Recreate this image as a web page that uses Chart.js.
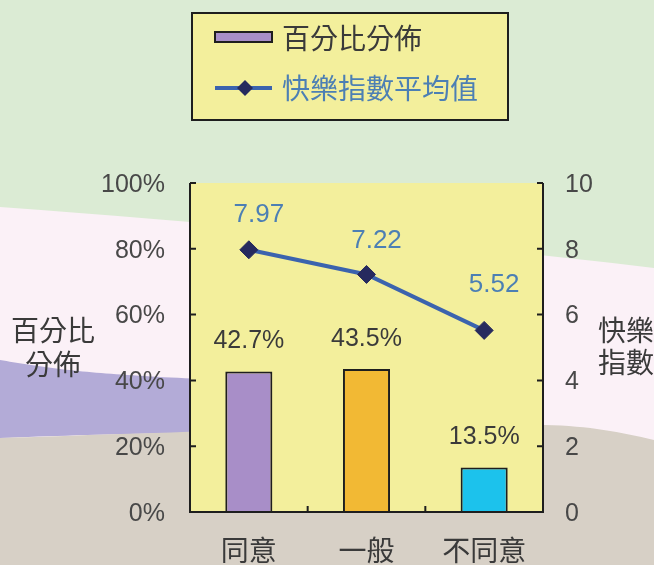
<!DOCTYPE html>
<html>
<head>
<meta charset="utf-8">
<script src="https://cdn.jsdelivr.net/npm/chart.js@4/dist/chart.umd.min.js"></script>
<style>
  html, body { margin: 0; padding: 0; background: #dbebd4; }
  canvas { display: block; }
</style>
</head>
<body>
<canvas id="chart" width="654" height="565"></canvas>
<script>
// datos
var categories = ['同意', '一般', '不同意'];
var percentValues = [42.7, 43.5, 13.5];
var happinessValues = [7.97, 7.22, 5.52];
var percentTicks = [0, 20, 40, 60, 80, 100];
var happinessTicks = [0, 2, 4, 6, 8, 10];
var barColors = ['#a88ec8', '#f2b934', '#1cc2ec'];

var FONT = '"Noto Sans CJK TC", "Noto Sans", sans-serif';
var NUM_FONT = '"Liberation Sans", Arial, sans-serif';
var YELLOW = '#f3ef9c';
var LINE_BLUE = '#3b63ae';
var MARKER = '#262a5e';
var LABEL_BLUE = '#4c7fb4';
var TEXT = '#3a3a3a';

// fondo con las franjas onduladas y el area amarilla
var backgroundPlugin = {
    id: 'fondo',
    beforeDraw: function (chart) {
        var ctx = chart.ctx;
        var w = chart.width, h = chart.height;
        var a = chart.chartArea;
        ctx.save();
        ctx.fillStyle = '#dbebd4';
        ctx.fillRect(0, 0, w, h);

        // franja rosa
        ctx.fillStyle = '#fbf1f7';
        ctx.beginPath();
        ctx.moveTo(0, 207);
        ctx.bezierCurveTo(200, 222, 420, 240, w, 268);
        ctx.lineTo(w, h);
        ctx.lineTo(0, h);
        ctx.closePath();
        ctx.fill();

        // franja morada (izquierda)
        ctx.fillStyle = '#b3abd7';
        ctx.beginPath();
        ctx.moveTo(0, 360);
        ctx.bezierCurveTo(70, 372, 130, 380, 420, 384);
        ctx.lineTo(420, 430);
        ctx.bezierCurveTo(200, 432, 100, 434, 0, 438);
        ctx.closePath();
        ctx.fill();

        // franja gris
        ctx.fillStyle = '#d7d0c6';
        ctx.beginPath();
        ctx.moveTo(0, 438);
        ctx.bezierCurveTo(150, 433, 400, 424, 545, 425);
        ctx.bezierCurveTo(590, 426, 620, 432, w, 440);
        ctx.lineTo(w, h);
        ctx.lineTo(0, h);
        ctx.closePath();
        ctx.fill();

        ctx.fillStyle = YELLOW;
        ctx.fillRect(a.left, a.top, a.right - a.left, a.bottom - a.top);
        ctx.restore();
    }
};

// ejes, marcas y etiquetas de valores
var decorPlugin = {
    id: 'decor',
    afterDatasetsDraw: function (chart) {
        var ctx = chart.ctx;
        var a = chart.chartArea;
        var yS = chart.scales.y, y1S = chart.scales.y1, xS = chart.scales.x;
        ctx.save();
        ctx.strokeStyle = '#1e1e1e';
        ctx.lineWidth = 2;
        ctx.beginPath();
        ctx.moveTo(a.left, a.top);
        ctx.lineTo(a.left, a.bottom);
        ctx.lineTo(a.right, a.bottom);
        ctx.lineTo(a.right, a.top);
        ctx.stroke();

        ctx.beginPath();
        percentTicks.forEach(function (v) {
            var py = yS.getPixelForValue(v);
            ctx.moveTo(a.left, py);
            ctx.lineTo(a.left + 6, py);
        });
        happinessTicks.forEach(function (v) {
            var py = y1S.getPixelForValue(v);
            ctx.moveTo(a.right, py);
            ctx.lineTo(a.right - 6, py);
        });
        for (var i = 1; i < categories.length; i++) {
            var bx = (xS.getPixelForValue(i - 1) + xS.getPixelForValue(i)) / 2;
            ctx.moveTo(bx, a.bottom);
            ctx.lineTo(bx, a.bottom - 6);
        }
        ctx.stroke();

        // etiquetas de las barras
        ctx.textAlign = 'center';
        ctx.textBaseline = 'middle';
        ctx.font = '25px ' + NUM_FONT;
        ctx.fillStyle = TEXT;
        var barMeta = chart.getDatasetMeta(1);
        barMeta.data.forEach(function (bar, i) {
            ctx.fillText(percentValues[i].toFixed(1) + '%', bar.x, bar.y - 30);
        });

        // etiquetas de la linea
        var offY = [-35, -34, -46];
        ctx.font = '26px ' + NUM_FONT;
        ctx.fillStyle = LABEL_BLUE;
        var lineMeta = chart.getDatasetMeta(0);
        lineMeta.data.forEach(function (pt, i) {
            ctx.fillText(happinessValues[i].toFixed(2), pt.x + 10, pt.y + offY[i]);
        });
        ctx.restore();
    },
    afterDraw: function (chart) {
        var ctx = chart.ctx;
        ctx.save();
        // leyenda
        ctx.fillStyle = YELLOW;
        ctx.fillRect(192, 13, 316, 107);
        ctx.strokeStyle = '#1e1e1e';
        ctx.lineWidth = 2;
        ctx.strokeRect(192, 13, 316, 107);

        ctx.fillStyle = barColors[0];
        ctx.fillRect(215, 32, 57, 10);
        ctx.strokeRect(215, 32, 57, 10);

        ctx.strokeStyle = LINE_BLUE;
        ctx.lineWidth = 4;
        ctx.beginPath();
        ctx.moveTo(215, 88);
        ctx.lineTo(272, 88);
        ctx.stroke();
        ctx.fillStyle = MARKER;
        ctx.beginPath();
        ctx.moveTo(245, 80);
        ctx.lineTo(253, 88);
        ctx.lineTo(245, 96);
        ctx.lineTo(237, 88);
        ctx.closePath();
        ctx.fill();

        ctx.font = '28px ' + FONT;
        ctx.textAlign = 'left';
        ctx.textBaseline = 'middle';
        ctx.fillStyle = TEXT;
        ctx.fillText(chart.data.datasets[1].label, 282, 38);
        ctx.fillStyle = LABEL_BLUE;
        ctx.fillText(chart.data.datasets[0].label, 282, 88);

        // titulos de los ejes
        ctx.fillStyle = TEXT;
        ctx.textAlign = 'center';
        ctx.fillText('百分比', 53, 330);
        ctx.fillText('分佈', 53, 364);
        ctx.textAlign = 'left';
        ctx.fillText('快樂', 598, 330);
        ctx.fillText('指數', 598, 362);
        ctx.restore();
    }
};

var tickFont = { family: NUM_FONT, size: 25 };

new Chart(document.getElementById('chart'), {
    type: 'bar',
    data: {
        labels: categories,
        datasets: [
            {
                type: 'line',
                label: '快樂指數平均值',
                data: happinessValues,
                yAxisID: 'y1',
                borderColor: LINE_BLUE,
                borderWidth: 4,
                pointStyle: 'rectRot',
                pointRadius: 9,
                pointBackgroundColor: MARKER,
                pointBorderColor: MARKER,
                pointBorderWidth: 1,
                order: 0
            },
            {
                type: 'bar',
                label: '百分比分佈',
                data: percentValues,
                yAxisID: 'y',
                backgroundColor: barColors,
                borderColor: '#1e1e1e',
                borderWidth: 2,
                categoryPercentage: 1,
                barPercentage: 0.4,
                order: 1
            }
        ]
    },
    options: {
        responsive: false,
        animation: false,
        layout: { padding: { top: 183, left: 0, right: 0, bottom: 0 } },
        plugins: {
            legend: { display: false },
            tooltip: { enabled: false }
        },
        scales: {
            x: {
                grid: { display: false, drawTicks: false },
                border: { display: false },
                ticks: { font: { family: FONT, size: 28 }, color: TEXT, padding: 22 },
                afterFit: function (s) { s.height = 53; }
            },
            y: {
                position: 'left',
                min: 0,
                max: 100,
                grid: { display: false, drawTicks: false },
                border: { display: false },
                ticks: {
                    stepSize: 20,
                    font: tickFont,
                    color: '#484848',
                    padding: 25,
                    labelOffset: 2,
                    callback: function (v) { return v + '%'; }
                },
                afterFit: function (s) { s.width = 190; }
            },
            y1: {
                position: 'right',
                min: 0,
                max: 10,
                grid: { display: false, drawTicks: false },
                border: { display: false },
                ticks: { stepSize: 2, font: tickFont, color: '#484848', padding: 22, labelOffset: 2 },
                afterFit: function (s) { s.width = 111; }
            }
        }
    },
    plugins: [backgroundPlugin, decorPlugin]
});
</script>
</body>
</html>
